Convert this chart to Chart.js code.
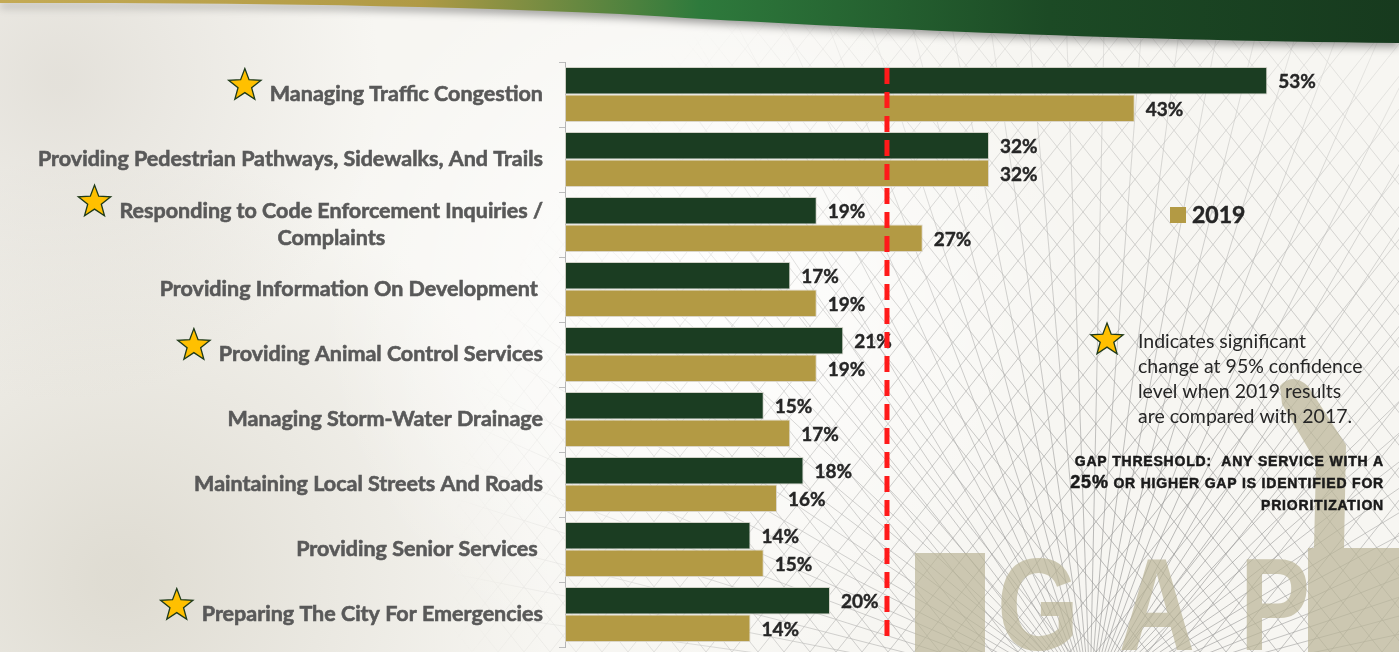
<!DOCTYPE html>
<html>
<head>
<meta charset="utf-8">
<script src="https://cdn.jsdelivr.net/npm/chart.js@4/dist/chart.umd.min.js"></script>
<style>
  html, body { margin: 0; padding: 0; background: #f6f5f1; }
  #wrap { width: 1399px; height: 652px; position: relative; }
  canvas { display: block; }
</style>
</head>
<body>
<div id="wrap"><canvas id="chart" width="1399" height="652"></canvas></div>
<script>
// Services surveyed, in display order (top to bottom)
const categories = [
  'Managing Traffic Congestion',
  'Providing Pedestrian Pathways, Sidewalks, And Trails',
  ['Responding to Code Enforcement Inquiries /', 'Complaints'],
  'Providing Information On Development ',
  'Providing Animal Control Services',
  'Managing Storm-Water Drainage',
  'Maintaining Local Streets And Roads',
  'Providing Senior Services ',
  'Preparing The City For Emergencies'
];
// Gap scores (%)
const gap2017 = [53, 32, 19, 17, 21, 15, 18, 14, 20];
const gap2019 = [43, 32, 27, 19, 19, 17, 16, 15, 14];
// Significant change between survey years
const significant = [true, false, true, false, true, false, false, false, true];
// Prioritization threshold marker position on the value axis
const thresholdMark = 24.3;
const seriesNames = ['2017', '2019'];

const DARK = '#1b3d22';
const GOLD = '#b39a44';
const LABEL_FONT = '"Lato", "Open Sans", sans-serif';
const NOTE_FONT = '"Liberation Sans", "DejaVu Sans", sans-serif';

function drawStar(ctx, cx, cy, r) {
  ctx.save();
  ctx.beginPath();
  for (let i = 0; i < 10; i++) {
    const rad = i % 2 === 0 ? r : r * 0.42;
    const a = -Math.PI / 2 + i * Math.PI / 5;
    const x = cx + rad * Math.cos(a), y = cy + rad * Math.sin(a);
    i === 0 ? ctx.moveTo(x, y) : ctx.lineTo(x, y);
  }
  ctx.closePath();
  ctx.fillStyle = '#ffc000';
  ctx.fill();
  ctx.lineWidth = 1.3;
  ctx.strokeStyle = '#1f3a1a';
  ctx.stroke();
  ctx.restore();
}

// Page backdrop: paper tone, line mesh, watermark lettering and header band
const backdrop = {
  id: 'backdrop',
  beforeDraw(chart) {
    const ctx = chart.ctx;
    const W = chart.width, H = chart.height;
    ctx.save();
    ctx.fillStyle = '#f7f6f2';
    ctx.fillRect(0, 0, W, H);
    let g = ctx.createRadialGradient(120, 580, 20, 120, 580, 430);
    g.addColorStop(0, 'rgba(200,195,180,0.5)');
    g.addColorStop(1, 'rgba(200,195,180,0)');
    ctx.fillStyle = g; ctx.fillRect(0, 0, W, H);
    g = ctx.createRadialGradient(60, 80, 10, 60, 80, 320);
    g.addColorStop(0, 'rgba(205,200,190,0.45)');
    g.addColorStop(1, 'rgba(205,200,190,0)');
    ctx.fillStyle = g; ctx.fillRect(0, 0, W, H);
    g = ctx.createRadialGradient(700, 300, 20, 700, 300, 380);
    g.addColorStop(0, 'rgba(255,255,255,0.9)');
    g.addColorStop(1, 'rgba(255,255,255,0)');
    ctx.fillStyle = g; ctx.fillRect(0, 0, W, H);

    // mesh of thin lines, faded toward the upper left
    const off = document.createElement('canvas');
    off.width = W; off.height = H;
    const o = off.getContext('2d');
    o.strokeStyle = 'rgba(120,120,120,0.6)';
    o.lineWidth = 1;
    const fx = 1090, fy = 700;
    for (let a = -172; a <= -8; a += 3.2) {
      const t = a * Math.PI / 180;
      o.beginPath(); o.moveTo(fx, fy);
      o.lineTo(fx + 1600 * Math.cos(t), fy + 1600 * Math.sin(t)); o.stroke();
    }
    for (let k = -1400; k < 1800; k += 26) {
      o.beginPath(); o.moveTo(k, H); o.lineTo(k + 520, H - 652); o.stroke();
      o.beginPath(); o.moveTo(k, H); o.lineTo(k - 520, H - 652); o.stroke();
    }
    o.globalCompositeOperation = 'destination-in';
    const m = o.createRadialGradient(1150, 560, 60, 1150, 560, 700);
    m.addColorStop(0, 'rgba(0,0,0,0.8)');
    m.addColorStop(0.55, 'rgba(0,0,0,0.42)');
    m.addColorStop(1, 'rgba(0,0,0,0)');
    o.fillStyle = m; o.fillRect(0, 0, W, H);
    ctx.drawImage(off, 0, 0);

    // watermark
    ctx.fillStyle = 'rgba(185,180,150,0.7)';
    ctx.fillRect(915, 553, 70, 99);
    ctx.fillRect(1308, 548, 91, 104);
    ctx.beginPath();
    ctx.moveTo(1280, 386); ctx.quadraticCurveTo(1292, 372, 1308, 386);
    ctx.lineTo(1346, 445); ctx.lineTo(1344, 548); ctx.lineTo(1314, 548);
    ctx.lineTo(1316, 462); ctx.lineTo(1282, 404); ctx.closePath(); ctx.fill();
    ctx.font = 'bold 132px "Liberation Sans", sans-serif';
    ctx.textAlign = 'center'; ctx.textBaseline = 'alphabetic';
    const letters = [['G', 1038], ['A', 1157], ['P', 1275]];
    letters.forEach(([ch, x]) => {
      ctx.save();
      ctx.translate(x, 650);
      ctx.scale(0.8, 1);
      ctx.fillText(ch, 0, 0);
      ctx.restore();
    });

    // header band with soft shadow
    ctx.save();
    ctx.shadowColor = 'rgba(80,80,80,0.55)';
    ctx.shadowBlur = 8; ctx.shadowOffsetY = 4;
    const bg = ctx.createLinearGradient(0, 0, W, 0);
    bg.addColorStop(0, '#c4aa55');
    bg.addColorStop(0.3, '#b09a45');
    bg.addColorStop(0.5, '#2e7a3c');
    bg.addColorStop(0.75, '#1c4a25');
    bg.addColorStop(1, '#173a1e');
    ctx.beginPath();
    ctx.moveTo(0, 0); ctx.lineTo(W, 0); ctx.lineTo(W, 43);
    ctx.bezierCurveTo(1100, 40, 850, 28, 620, 14);
    ctx.bezierCurveTo(400, 4, 200, 3, 0, 3);
    ctx.closePath();
    ctx.fillStyle = bg; ctx.fill();
    ctx.restore();
    ctx.restore();
  }
};

// Category names, significance stars, value labels, threshold marker and notes
const overlay = {
  id: 'overlay',
  afterDatasetsDraw(chart) {
    const ctx = chart.ctx;
    const yScale = chart.scales.y, xScale = chart.scales.x;
    const area = chart.chartArea;
    const heavy = (txt, x, y) => { ctx.fillText(txt, x, y); ctx.strokeText(txt, x, y); };
    ctx.save();

    // category labels (right aligned block, multi-line centred within block)
    ctx.font = `bold 21.5px ${LABEL_FONT}`;
    ctx.fillStyle = '#595959';
    ctx.strokeStyle = '#595959';
    ctx.lineWidth = 0.6;
    ctx.textBaseline = 'middle';
    const rightEdge = 543, lineH = 27;
    categories.forEach((lab, i) => {
      const cy = yScale.getPixelForTick(i);
      const lines = Array.isArray(lab) ? lab : [lab];
      const widths = lines.map(l => ctx.measureText(l).width);
      const blockW = Math.max(...widths);
      const left = rightEdge - blockW;
      const top = cy - (lines.length - 1) * lineH / 2;
      lines.forEach((l, j) => {
        ctx.textAlign = 'center';
        heavy(l, left + blockW / 2, top + j * lineH);
      });
      if (significant[i]) {
        const firstLeft = left + (blockW - widths[0]) / 2;
        drawStar(ctx, firstLeft - 25, top - 9, 17);
      }
    });

    // value labels
    ctx.font = `bold 19px ${LABEL_FONT}`;
    ctx.fillStyle = '#262626';
    ctx.strokeStyle = '#262626';
    ctx.lineWidth = 0.4;
    ctx.textAlign = 'left';
    chart.data.datasets.forEach((ds, di) => {
      const meta = chart.getDatasetMeta(di);
      meta.data.forEach((bar, i) => {
        heavy(ds.data[i] + '%', bar.x + 11, bar.y + 1.5);
      });
    });

    // threshold marker
    const tx = xScale.getPixelForValue(thresholdMark);
    ctx.strokeStyle = '#ff1a1a';
    ctx.lineWidth = 5;
    ctx.setLineDash([16, 8]);
    ctx.beginPath();
    ctx.moveTo(tx, area.top + 6);
    ctx.lineTo(tx, area.bottom - 8);
    ctx.stroke();
    ctx.setLineDash([]);

    // legend entry for the current year
    ctx.fillStyle = GOLD;
    ctx.fillRect(1170, 207, 16, 16);
    ctx.fillStyle = '#262626';
    ctx.strokeStyle = '#262626';
    ctx.lineWidth = 0.5;
    ctx.font = `bold 23px ${LABEL_FONT}`;
    ctx.textBaseline = 'middle';
    heavy(seriesNames[1], 1192, 216);

    // significance note
    drawStar(ctx, 1107, 340, 17);
    ctx.font = `19.5px ${LABEL_FONT}`;
    ctx.fillStyle = '#262626';
    const note = ['Indicates significant', 'change at 95% confidence',
                  'level when 2019 results', 'are compared with 2017.'];
    note.forEach((l, j) => ctx.fillText(l, 1138, 342 + j * 25));

    // threshold note
    ctx.textAlign = 'right';
    ctx.fillStyle = '#1a1a1a';
    ctx.strokeStyle = '#1a1a1a';
    ctx.lineWidth = 0.5;
    ctx.letterSpacing = '0.8px';
    ctx.font = `bold 14px ${NOTE_FONT}`;
    heavy('GAP THRESHOLD:  ANY SERVICE WITH A', 1384, 462);
    const l2 = ' OR HIGHER GAP IS IDENTIFIED FOR';
    const w2 = ctx.measureText(l2).width;
    heavy(l2, 1384, 484);
    heavy('PRIORITIZATION', 1384, 506);
    ctx.font = `bold 18px ${NOTE_FONT}`;
    heavy('25%', 1384 - w2, 483);
    ctx.letterSpacing = '0px';
    ctx.restore();
  }
};

new Chart(document.getElementById('chart'), {
  type: 'bar',
  data: {
    labels: categories,
    datasets: [
      { label: seriesNames[0], data: gap2017, backgroundColor: DARK,
        borderColor: 'rgba(205,205,195,0.9)', borderWidth: 1, borderSkipped: false },
      { label: seriesNames[1], data: gap2019, backgroundColor: GOLD,
        borderColor: 'rgba(215,210,195,0.9)', borderWidth: 1, borderSkipped: false }
    ]
  },
  options: {
    indexAxis: 'y',
    responsive: false,
    animation: false,
    categoryPercentage: 0.846,
    barPercentage: 1.0,
    layout: { padding: { top: 62, bottom: 5, right: 39, left: 0 } },
    scales: {
      x: { display: false, min: 0, max: 60 },
      y: {
        afterFit(scale) { scale.width = 565; },
        ticks: { display: false },
        grid: { drawOnChartArea: false, drawTicks: true, tickLength: 6, color: '#bdbdbd', offset: true },
        border: { display: true, color: '#b5b5b5', width: 1 }
      }
    },
    plugins: { legend: { display: false }, tooltip: { enabled: false } }
  },
  plugins: [backdrop, overlay]
});
</script>
</body>
</html>
